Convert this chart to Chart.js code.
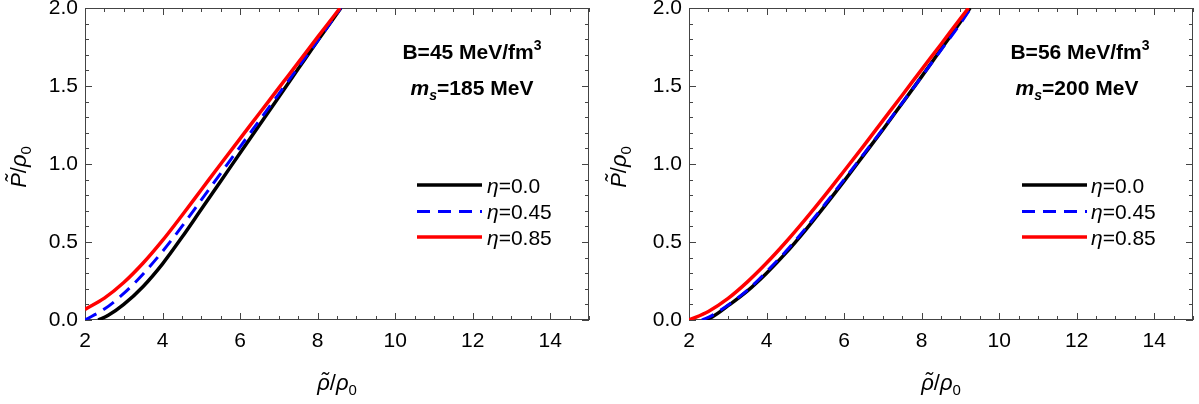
<!DOCTYPE html>
<html>
<head>
<meta charset="utf-8">
<script src="https://cdn.jsdelivr.net/npm/chart.js@4.4.1/dist/chart.umd.min.js"></script>
<style>
  html, body { margin: 0; padding: 0; background: #fff; }
  #wrap { display: flex; width: 1199px; height: 404px; }
  canvas { display: block; }
</style>
</head>
<body>
<div id="wrap">
  <canvas id="left" width="600" height="404"></canvas>
  <canvas id="right" width="599" height="404"></canvas>
</div>
<script>
// ---- axis ticks ----
const xTickValues = [2, 4, 6, 8, 10, 12, 14];
const yTickValues = [0, 0.5, 1.0, 1.5, 2.0];

// ---- legend ----
const etaLabels = ['0.0', '0.45', '0.85'];

// ---- panel parameters ----
const bagValues = ['45', '56'];       // MeV/fm^3
const strangeMasses = ['185', '200']; // MeV

// ---- left panel: B=45 MeV/fm^3, m_s=185 MeV ----
const leftEta00X  = [2.34, 2.6, 3.0, 3.5, 4.0, 4.5, 5.0, 5.5, 6.0, 6.5, 7.0, 7.5, 8.0, 8.6];
const leftEta00Y  = [0, 0.03, 0.10, 0.215, 0.36, 0.53, 0.71, 0.89, 1.07, 1.25, 1.43, 1.61, 1.79, 2.0];
const leftEta045X = [2.0, 2.5, 3.0, 3.5, 4.0, 4.5, 5.0, 5.5, 6.0, 6.5, 7.0, 7.5, 8.0, 8.6];
const leftEta045Y = [0.0, 0.07, 0.17, 0.295, 0.44, 0.60, 0.77, 0.94, 1.11, 1.28, 1.45, 1.62, 1.79, 2.0];
const leftEta085X = [2.0, 2.5, 3.0, 3.5, 4.0, 4.5, 5.0, 5.5, 6.0, 6.5, 7.0, 7.5, 8.0, 8.58];
const leftEta085Y = [0.068, 0.14, 0.24, 0.365, 0.51, 0.67, 0.835, 1.0, 1.163, 1.325, 1.488, 1.65, 1.813, 2.0];

// ---- right panel: B=56 MeV/fm^3, m_s=200 MeV ----
const rightEta00X  = [2.40, 2.6, 3.0, 3.5, 4.0, 4.5, 5.0, 5.5, 6.0, 6.5, 7.0, 7.5, 8.0, 8.5, 9.0, 9.25];
const rightEta00Y  = [0, 0.02, 0.09, 0.185, 0.30, 0.43, 0.575, 0.73, 0.89, 1.055, 1.22, 1.39, 1.56, 1.735, 1.91, 2.0];
const rightEta045X = [2.33, 2.6, 3.0, 3.5, 4.0, 4.5, 5.0, 5.5, 6.0, 6.5, 7.0, 7.5, 8.0, 8.5, 9.0, 9.27];
const rightEta045Y = [0, 0.03, 0.095, 0.19, 0.31, 0.44, 0.585, 0.74, 0.90, 1.062, 1.225, 1.392, 1.56, 1.73, 1.90, 2.0];
const rightEta085X = [2.0, 2.5, 3.0, 3.5, 4.0, 4.5, 5.0, 5.5, 6.0, 6.5, 7.0, 7.5, 8.0, 8.5, 9.0, 9.21];
const rightEta085Y = [0, 0.055, 0.137, 0.243, 0.365, 0.50, 0.645, 0.797, 0.955, 1.115, 1.278, 1.441, 1.605, 1.768, 1.932, 2.0];

const FAMILY = "'Liberation Sans', Arial, sans-serif";
const FRAME = '#444';

const seriesStyles = [
  { color: '#000000', width: 3.5, dash: [], order: 2 },
  { color: '#0000ff', width: 3, dash: [13, 8], order: 1 },
  { color: '#ff0000', width: 3.5, dash: [], order: 0 }
];

function zipPoints(xs, ys) {
  return xs.map((x, i) => ({ x: x, y: ys[i] }));
}

// draw a row of text pieces; each piece may carry its own font, vertical shift and a tilde accent
function drawRuns(ctx, runs, x, y, align) {
  let total = 0;
  runs.forEach(r => { ctx.font = r.font; r.w = ctx.measureText(r.text).width; total += r.w; });
  let cx = align === 'center' ? x - total / 2 : x;
  runs.forEach(r => {
    ctx.font = r.font;
    ctx.fillText(r.text, cx, y + (r.dy || 0));
    if (r.tilde) {
      ctx.save();
      ctx.textAlign = 'center';
      ctx.fillText('\u02DC', cx + r.w / 2 + (r.tildeDx || 0), y + (r.dy || 0) + (r.tildeDy || 0));
      ctx.restore();
    }
    cx += r.w;
  });
}

const frameTicksPlugin = {
  id: 'frameTicks',
  beforeDatasetsDraw(chart) {
    const { ctx, chartArea: a, scales: { x, y } } = chart;
    ctx.save();
    ctx.strokeStyle = FRAME;
    ctx.lineWidth = 1;
    ctx.beginPath();
    // inward ticks on all four sides
    for (let v = 2; v <= 15.001; v += 0.5) {
      const px = Math.round(x.getPixelForValue(v)) + 0.5;
      const len = (Math.abs(v / 2 - Math.round(v / 2)) < 1e-6) ? 7 : 4;
      ctx.moveTo(px, a.bottom); ctx.lineTo(px, a.bottom - len);
      ctx.moveTo(px, a.top); ctx.lineTo(px, a.top + len);
    }
    for (let i = 0; i <= 20; i++) {
      const v = i / 10;
      const py = Math.round(y.getPixelForValue(v)) + 0.5;
      const len = (i % 5 === 0) ? 7 : 4;
      ctx.moveTo(a.left, py); ctx.lineTo(a.left + len, py);
      ctx.moveTo(a.right, py); ctx.lineTo(a.right - len, py);
    }
    ctx.stroke();
    ctx.strokeRect(Math.round(a.left) + 0.5, Math.round(a.top) + 0.5,
                   Math.round(a.right - a.left) - 1, Math.round(a.bottom - a.top) - 1);
    ctx.restore();
  }
};

const annotationPlugin = {
  id: 'panelText',
  afterDraw(chart, args, opts) {
    const { ctx, chartArea: a } = chart;
    ctx.save();
    ctx.fillStyle = '#000';
    ctx.textBaseline = 'alphabetic';
    ctx.textAlign = 'left';

    // axis titles
    const it = `italic 22px ${FAMILY}`;
    const rm = `22px ${FAMILY}`;
    const sb = `15px ${FAMILY}`;
    drawRuns(ctx, [
      { text: '\u03C1', font: it, tilde: true, tildeDx: 1, tildeDy: -2 },
      { text: '/', font: rm },
      { text: '\u03C1', font: it },
      { text: '0', font: sb, dy: 5 }
    ], (a.left + a.right) / 2, 390, 'center');

    ctx.save();
    ctx.translate(opts.yTitleX, (a.top + a.bottom) / 2 + 3);
    ctx.rotate(-Math.PI / 2);
    drawRuns(ctx, [
      { text: 'P', font: it, tilde: true, tildeDx: 2, tildeDy: -5 },
      { text: '/', font: rm },
      { text: '\u03C1', font: it },
      { text: '0', font: sb, dy: 5 }
    ], 0, 0, 'center');
    ctx.restore();

    // parameter labels
    const bd = `bold 21px ${FAMILY}`;
    const bdSup = `bold 14px ${FAMILY}`;
    const bdIt = `bold italic 21px ${FAMILY}`;
    const bdItSub = `bold italic 14px ${FAMILY}`;
    drawRuns(ctx, [
      { text: 'B=' + opts.bag + ' MeV/fm', font: bd },
      { text: '3', font: bdSup, dy: -9 }
    ], opts.infoX, 59, 'center');
    drawRuns(ctx, [
      { text: 'm', font: bdIt },
      { text: 's', font: bdItSub, dy: 5 },
      { text: '=' + opts.mass + ' MeV', font: bd }
    ], opts.infoX2, 95, 'center');

    // legend
    const rows = [185, 211.5, 237];
    chart.data.datasets.forEach((ds, i) => {
      const yy = rows[i];
      ctx.save();
      ctx.strokeStyle = ds.borderColor;
      ctx.lineWidth = ds.borderWidth;
      ctx.setLineDash(ds.borderDash || []);
      ctx.beginPath();
      ctx.moveTo(opts.legendX0, yy);
      ctx.lineTo(opts.legendX1, yy);
      ctx.stroke();
      ctx.restore();
      drawRuns(ctx, [
        { text: '\u03B7', font: `italic 21px ${FAMILY}` },
        { text: '=' + etaLabels[i], font: `21px ${FAMILY}` }
      ], opts.legendTextX, yy + 7.5, 'left');
    });
    ctx.restore();
  }
};

function buildChart(id, xsList, ysList, o) {
  const datasets = xsList.map((xs, i) => ({
    label: '\u03B7=' + etaLabels[i],
    data: zipPoints(xs, ysList[i]),
    borderColor: seriesStyles[i].color,
    borderWidth: seriesStyles[i].width,
    borderDash: seriesStyles[i].dash,
    borderCapStyle: 'butt',
    order: seriesStyles[i].order,
    pointRadius: 0,
    fill: false,
    cubicInterpolationMode: 'monotone'
  }));

  return new Chart(document.getElementById(id), {
    type: 'line',
    data: { datasets },
    plugins: [frameTicksPlugin, annotationPlugin],
    options: {
      responsive: false,
      animation: false,
      devicePixelRatio: 1,
      layout: { padding: { top: 8, right: o.padRight, bottom: 0, left: 0 } },
      plugins: {
        legend: { display: false },
        tooltip: { enabled: false },
        panelText: o
      },
      scales: {
        x: {
          type: 'linear',
          min: 2, max: 15,
          grid: { display: false, drawTicks: false },
          border: { display: false },
          afterBuildTicks: s => { s.ticks = xTickValues.map(v => ({ value: v })); },
          afterFit: s => { s.height = 84; s.paddingLeft = 0; s.paddingRight = 0; },
          ticks: {
            color: '#000',
            padding: 9,
            maxRotation: 0,
            autoSkip: false,
            font: { family: FAMILY, size: 21 },
            callback: v => String(v)
          }
        },
        y: {
          type: 'linear',
          min: 0, max: 2,
          grid: { display: false, drawTicks: false },
          border: { display: false },
          afterBuildTicks: s => { s.ticks = yTickValues.map(v => ({ value: v })); },
          afterFit: s => { s.width = o.yWidth; s.paddingTop = 0; s.paddingBottom = 0; },
          ticks: {
            color: '#000',
            padding: 7,
            autoSkip: false,
            font: { family: FAMILY, size: 21 },
            callback: v => Number(v).toFixed(1)
          }
        }
      }
    }
  });
}

buildChart('left',
  [leftEta00X, leftEta045X, leftEta085X],
  [leftEta00Y, leftEta045Y, leftEta085Y],
  { yWidth: 85, padRight: 11, yTitleX: 26, bag: bagValues[0], mass: strangeMasses[0],
    infoX: 472, infoX2: 472, legendX0: 417, legendX1: 482, legendTextX: 487 });

buildChart('right',
  [rightEta00X, rightEta045X, rightEta085X],
  [rightEta00Y, rightEta045Y, rightEta085Y],
  { yWidth: 89, padRight: 6, yTitleX: 26, bag: bagValues[1], mass: strangeMasses[1],
    infoX: 480, infoX2: 477, legendX0: 422, legendX1: 487, legendTextX: 491 });
</script>
</body>
</html>
